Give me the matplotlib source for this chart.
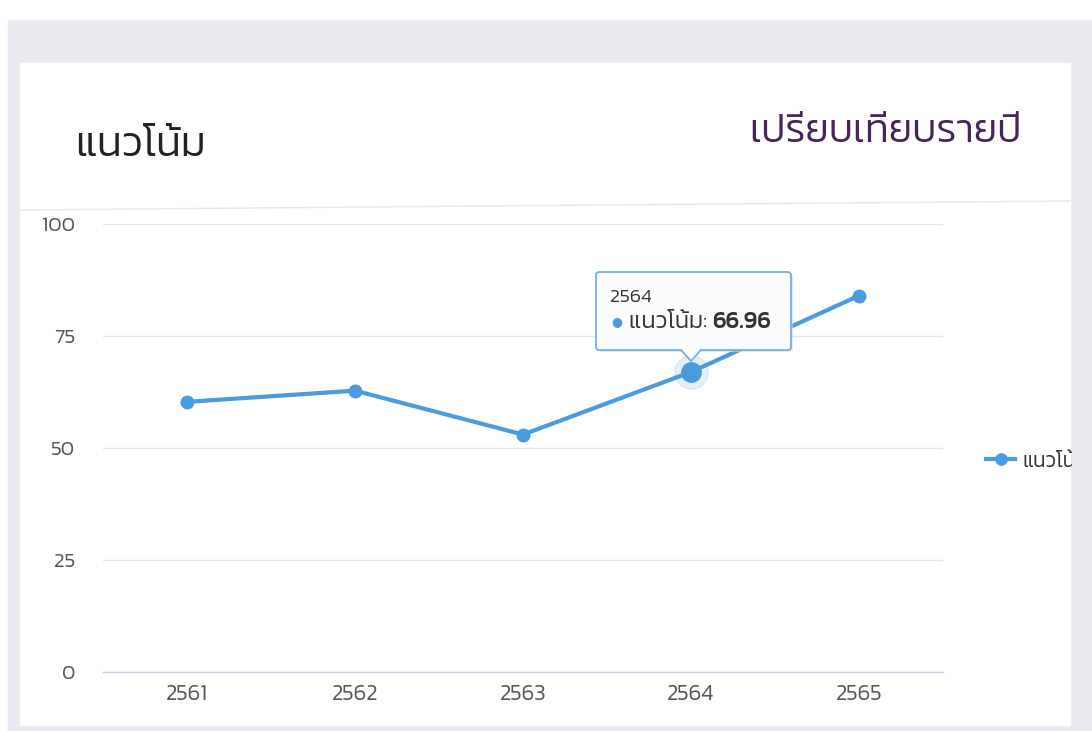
import matplotlib
matplotlib.use("Agg")
import matplotlib.pyplot as plt
from matplotlib.patches import Rectangle, FancyBboxPatch, Polygon
from matplotlib.transforms import Bbox
import numpy as np

plt.rcParams['font.family'] = ['Kanit', 'DejaVu Sans']

# ---- data ----
years = ['2561', '2562', '2563', '2564', '2565']
values = [60.3, 62.8, 53.0, 66.96, 84.0]
series_name = 'แนวโน้ม'
yticks = [0, 25, 50, 75, 100]
title_left = 'แนวโน้ม'
title_right = 'เปรียบเทียบรายปี'
tooltip_index = 3

W, H = 1092, 731
fig = plt.figure(figsize=(W / 100, H / 100), dpi=100)

# background / card (pixel coordinates)
bg = fig.add_axes([0, 0, 1, 1], zorder=0)
bg.set_xlim(0, W)
bg.set_ylim(H, 0)
bg.axis('off')
bg.add_patch(Rectangle((8, 20), W - 8, H - 20, color='#e8eaf0', zorder=0))
bg.add_patch(Rectangle((20, 63), 1050, 662, color='white', zorder=1))
bg.plot([20, 1070], [210, 201], color='#e6e6ea', lw=1, zorder=2)
bg.text(75, 146, title_left, fontsize=30, fontweight=300, color='#222222',
        va='center', ha='left', zorder=3)
bg.text(1022, 133, title_right, fontsize=28.5, fontweight=300, color='#472558',
        va='center', ha='right', zorder=3)

# chart axes
ax = fig.add_axes([103 / W, (H - 672) / H, 840 / W, 448 / H], zorder=1)
ax.set_facecolor('none')
x = np.arange(len(years))
line_color = '#4b9be0'
ax.plot(x, values, color=line_color, lw=3, marker='o', ms=9,
        label=series_name, zorder=5, clip_on=False)
ax.set_xlim(-0.5, len(years) - 0.5)
ax.set_ylim(0, 100)
ax.set_yticks(yticks)
ax.set_xticks(x)
ax.set_xticklabels(years)
ax.yaxis.grid(True, color='#e3e3e3', lw=1)
ax.set_axisbelow(True)
for s in ['top', 'right', 'left']:
    ax.spines[s].set_visible(False)
ax.spines['bottom'].set_color('#bcd0ea')
ax.spines['bottom'].set_linewidth(1)
ax.tick_params(axis='both', length=0, colors='#555555')
ax.tick_params(axis='y', pad=20, labelsize=15)
ax.tick_params(axis='x', pad=9, labelsize=16)
for lab in ax.get_xticklabels() + ax.get_yticklabels():
    lab.set_fontweight(300)

# highlighted point with halo
hx, hy = x[tooltip_index], values[tooltip_index]
ax.plot([hx], [hy], 'o', ms=24, color=line_color, alpha=0.15, zorder=4, clip_on=False)
ax.plot([hx], [hy], 'o', ms=14, color=line_color, zorder=6, clip_on=False)

# legend (clipped at card edge)
leg = ax.legend(loc='center left', bbox_to_anchor=(1.029, 0.47), frameon=False,
                fontsize=15, handlelength=1.4, handletextpad=0.35, markerscale=0.9)
for t in leg.get_texts():
    t.set_color('#333333')
    t.set_fontweight(300)
    t.set_clip_on(True)
    t.set_clip_box(Bbox.from_extents(0, 0, 1072, H))

# tooltip overlay, positioned relative to highlighted point
fg = fig.add_axes([0, 0, 1, 1], zorder=2)
fg.set_xlim(0, W)
fg.set_ylim(H, 0)
fg.axis('off')
fg.patch.set_visible(False)
fig.canvas.draw()
px, py = ax.transData.transform((hx, hy))
py = H - py
left, right, top, bottom = px - 95, px + 100, py - 100, py - 22
shadow = FancyBboxPatch((left + 2, top + 2), right - left, bottom - top,
                        boxstyle='round,pad=0,rounding_size=3',
                        facecolor='#d8dbe2', edgecolor='none', zorder=7, alpha=0.6)
box = FancyBboxPatch((left, top), right - left, bottom - top,
                     boxstyle='round,pad=0,rounding_size=3',
                     facecolor='#fbfcfe', edgecolor='#6aaae6', lw=1.2, zorder=8)
fg.add_patch(shadow)
fg.add_patch(box)
tri = Polygon([[px - 10, bottom - 1], [px + 10, bottom - 1], [px, bottom + 11]],
              closed=True, facecolor='#fbfcfe', edgecolor='none', zorder=9)
fg.add_patch(tri)
fg.plot([px - 10, px, px + 10], [bottom, bottom + 11, bottom], color='#6aaae6',
        lw=1.2, zorder=9)
fg.text(left + 14, top + 25, years[tooltip_index], fontsize=14, color='#333333',
        va='center', ha='left', zorder=10, fontweight=300)
fg.text(left + 15, top + 50, '●', fontsize=9, color=line_color, va='center',
        ha='left', zorder=10, family='DejaVu Sans')
t1 = fg.text(left + 33, top + 50, f'{series_name}: ', fontsize=17, color='#333333',
             va='center', ha='left', zorder=10, fontweight=300)
fg.annotate(f'{values[tooltip_index]:.2f}', xycoords=t1, xy=(1, 0.5),
            fontsize=17, color='#333333', va='center', ha='left', zorder=10,
            fontweight=500)

fig.savefig('out.png', dpi=100)
